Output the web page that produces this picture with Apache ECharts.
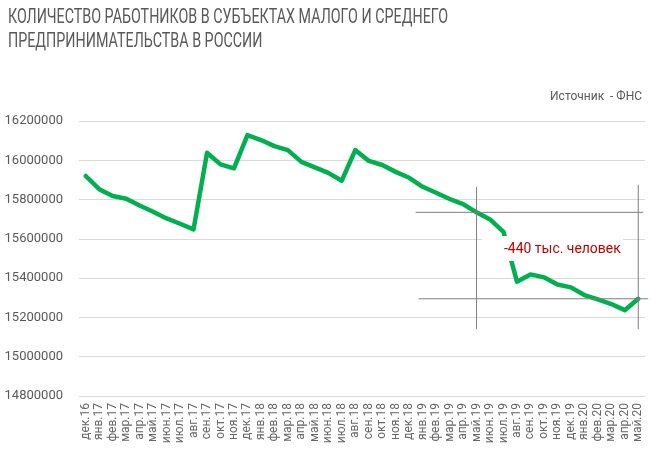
<!DOCTYPE html>
<html>
<head>
<meta charset="utf-8">
<script src="https://cdn.jsdelivr.net/npm/echarts@6/dist/echarts.min.js"></script>
<style>
html,body{margin:0;padding:0;background:#fff;}
#chart{width:652px;height:466px;}
</style>
</head>
<body>
<div id="chart"></div>
<script>
const categories = ['дек.16','янв.17','фев.17','мар.17','апр.17','май.17','июн.17','июл.17','авг.17','сен.17','окт.17','ноя.17','дек.17','янв.18','фев.18','мар.18','апр.18','май.18','июн.18','июл.18','авг.18','сен.18','окт.18','ноя.18','дек.18','янв.19','фев.19','мар.19','апр.19','май.19','июн.19','июл.19','авг.19','сен.19','окт.19','ноя.19','дек.19','янв.20','фев.20','мар.20','апр.20','май.20'];
const workers = [15920000,15853000,15818000,15804000,15770000,15738000,15704000,15677000,15648000,16038000,15979000,15959000,16128000,16103000,16072000,16052000,15992000,15964000,15936000,15896000,16052000,15997000,15976000,15941000,15911000,15865000,15835000,15803000,15777000,15735000,15699000,15636000,15382000,15419000,15404000,15368000,15353000,15314000,15292000,15268000,15237000,15295000];
const yTicks = {min:14800000, max:16200000, interval:200000};
const titleText = 'КОЛИЧЕСТВО РАБОТНИКОВ В СУБЪЕКТАХ МАЛОГО И СРЕДНЕГО\nПРЕДПРИНИМАТЕЛЬСТВА В РОССИИ';
const sourceText = 'Источник  - ФНС';
const annotationText = '-440 тыс. человек';
const annStart = 29, annEnd = 41;

const chart = echarts.init(document.getElementById('chart'), null, {renderer:'canvas'});
const FONT = 'Roboto,sans-serif';
chart.setOption({
  animation:false,
  backgroundColor:'#fff',
  grid:{left:79, right:7, top:121, bottom:70, containLabel:false},
  xAxis:{
    type:'category', data:categories, boundaryGap:true,
    axisLine:{show:true, lineStyle:{color:'#d9d9d9'}},
    axisTick:{show:false},
    axisLabel:{rotate:90, interval:0, fontSize:12, color:'#666666', fontFamily:FONT, margin:7}
  },
  yAxis:{
    type:'value', min:yTicks.min, max:yTicks.max, interval:yTicks.interval,
    axisLine:{show:false}, axisTick:{show:false},
    splitLine:{lineStyle:{color:'#d9d9d9', width:1}},
    axisLabel:{fontSize:13, color:'#595959', fontFamily:FONT, margin:16, formatter:v=>String(v)}
  },
  series:[{
    type:'line', data:workers, symbol:'none', smooth:false,
    lineStyle:{color:'#00b050', width:4.5, join:'round', cap:'round'}
  }]
});

function drawAnnotations(){
  const p1 = chart.convertToPixel({gridIndex:0}, [annStart, workers[annStart]]);
  const p2 = chart.convertToPixel({gridIndex:0}, [annEnd, workers[annEnd]]);
  const vTop = chart.convertToPixel({yAxisIndex:0}, 15865000);
  const vBot = chart.convertToPixel({yAxisIndex:0}, 15140000);
  const lc = '#7f7f7f';
  chart.setOption({graphic:[
    {type:'text', x:8, y:6, scaleX:0.715, style:{text:titleText, fill:'#595959', font:'20px '+FONT, lineHeight:24}, z:60},
    {type:'rect', shape:{x:482, y:236, width:141, height:25}, style:{fill:'#fff'}, z:50},
    {type:'text', x:504, y:249.5, scaleX:0.93, style:{text:annotationText, fill:'#c00000', font:'15px '+FONT, textVerticalAlign:'middle'}, z:60},
    {type:'line', shape:{x1:p1[0], y1:vTop, x2:p1[0], y2:vBot}, style:{stroke:lc, lineWidth:1}, z:70},
    {type:'line', shape:{x1:p2[0], y1:vTop-2, x2:p2[0], y2:vBot}, style:{stroke:lc, lineWidth:1}, z:70},
    {type:'line', shape:{x1:p1[0]-61, y1:p1[1], x2:p2[0]+5, y2:p1[1]}, style:{stroke:lc, lineWidth:1}, z:70},
    {type:'line', shape:{x1:p1[0]-58, y1:p2[1], x2:p2[0]+10, y2:p2[1]}, style:{stroke:lc, lineWidth:1}, z:70},
    {type:'text', right:10, top:91, style:{text:sourceText, fill:'#595959', font:'12px '+FONT}, z:60}
  ]});
}
drawAnnotations();
</script>
</body>
</html>
